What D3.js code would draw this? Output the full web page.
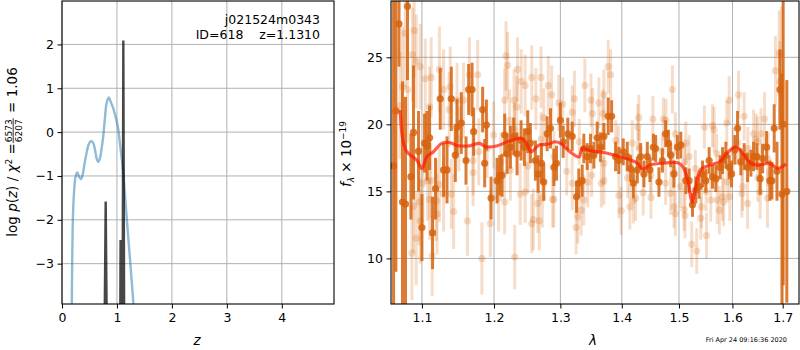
<!DOCTYPE html>
<html>
<head>
<meta charset="utf-8">
<script src="https://cdn.jsdelivr.net/npm/d3@7"></script>
<style>
body { margin: 0; background: #fff; }
text { font-family: "DejaVu Sans", sans-serif; fill: #000; }
</style>
</head>
<body>
<svg width="800" height="350"></svg>
<script>
// ---- left panel: log p(z) ----
const zTicks = [0, 1, 2, 3, 4];
const pTicks = [-3, -2, -1, 0, 1, 2];
// smooth p(z) curve (blue)
const pzBlue = [
  [0.175,-4.5],[0.185,-3.0],[0.20,-1.9],[0.22,-1.35],[0.25,-1.0],[0.28,-0.92],[0.31,-1.02],
  [0.345,-1.07],[0.38,-0.95],[0.41,-0.72],[0.44,-0.52],[0.48,-0.30],[0.52,-0.21],[0.56,-0.23],
  [0.60,-0.40],[0.63,-0.60],[0.66,-0.68],[0.69,-0.60],[0.72,-0.38],[0.75,-0.10],[0.78,0.30],
  [0.81,0.65],[0.85,0.79],[0.89,0.68],[0.93,0.55],[0.98,0.32],[1.02,0.10],[1.06,-0.32],
  [1.11,-0.86],[1.15,-1.50],[1.20,-2.31],[1.25,-3.10],[1.30,-3.92],[1.32,-4.30]
];
// fine grid p(z) (dark)
const pzDark = [
  [0.70,-6],[0.765,-6],[0.795,-1.58],[0.825,-6],[1.055,-6],[1.066,-2.46],[1.075,-6],
  [1.10,-6],[1.116,2.09],[1.135,-6],[1.20,-6]
];
const fitTitle = "j021524m0343";
const fitInfo = "ID=618    z=1.1310";

// ---- right panel: spectrum ----
const lamTicks = [1.1, 1.2, 1.3, 1.4, 1.5, 1.6, 1.7];
const fluxTicks = [10, 15, 20, 25];
// [wavelength (micron), flux, error] - grism 1
const specDark = [
  [1.0630,16.9,14],[1.0660,21.0,12],[1.0700,27.5,3.2],[1.0745,14.2,9],[1.0784,14.05,8],
  [1.0810,28.8,5.5],[1.0855,16.1,3.2],[1.0889,19.4,5],[1.0955,18.0,3],[1.1000,12.3,2.5],
  [1.1035,18.6,2.2],[1.1067,18.4,2.6],[1.1102,19.0,2.4],[1.1142,11.9,2.7],[1.1182,15.2,2.3],
  [1.1246,21.9,2.3],[1.1291,16.6,2.0],[1.1338,16.6,2.5],[1.1397,21.9,2.4],[1.1452,17.7,2.0],
  [1.1476,19.8,2.1],[1.1535,20.1,2.3],[1.1601,17.3,1.8],[1.1638,22.6,1.9],[1.1686,22.6,2.0],
  [1.1708,19.45,1.8],[1.1836,21.1,1.7],[1.1865,17.1,1.8],[1.1890,19.95,1.9],[1.1957,14.5,1.6],
  [1.2044,15.8,1.7],[1.2082,16.2,1.5],[1.2117,16.2,1.6],[1.2155,19.2,1.6],[1.2190,17.8,1.5],
  [1.2239,18.3,1.6],[1.2288,19.1,1.4],[1.2338,17.8,1.6],[1.2398,18.8,1.5],[1.2448,18.3,1.4],
  [1.2498,19.45,1.6],[1.2538,18.6,1.5],[1.2614,17.3,1.5],[1.2656,16.3,1.4],[1.2706,17.1,1.5],
  [1.2742,15.7,1.4],[1.2794,19.3,1.3],[1.2846,19.7,1.5],[1.2898,16.8,1.4],[1.2939,17.1,1.3],
  [1.3000,20.3,1.3],[1.3044,18.7,1.2],[1.3117,19.3,1.2],[1.3187,19.1,1.1],[1.3256,14.6,1.2],
  [1.3292,15.6,1.1],[1.3347,15.8,1.2],[1.3373,18.2,1.1],[1.3428,17.6,1.0],[1.3482,18.2,1.1],
  [1.3536,17.7,1.0],[1.3591,19.0,1.2],[1.3646,18.3,1.1],[1.3701,19.1,1.0],[1.3773,20.6,1.4],
  [1.3829,20.6,1.2],[1.3896,17.6,1.1],[1.3951,17.3,1.0],[1.4025,17.95,1.0],[1.4093,17.6,1.1],
  [1.4150,16.7,1.0],[1.4196,15.6,1.1],[1.4265,16.6,1.0],[1.4322,17.6,1.0],[1.4379,16.3,1.0],
  [1.4438,17.6,1.1],[1.4484,16.6,0.9],[1.4544,18.3,1.0],[1.4584,18.2,1.0],[1.4642,15.7,1.1],
  [1.4703,17.3,0.9],[1.4761,19.3,1.0],[1.4810,18.6,1.0],[1.4851,17.7,0.9],[1.4910,16.3,1.0],
  [1.4972,18.3,0.9],[1.5033,18.45,1.0],[1.5124,15.8,1.0],[1.5184,15.8,0.9],[1.5247,14.0,0.9],
  [1.5308,15.1,1.0],[1.5369,15.35,0.9],[1.5432,16.3,1.0],[1.5494,15.8,0.9],[1.5556,17.3,1.0],
  [1.5620,16.1,0.9],[1.5683,15.95,1.0],[1.5764,16.8,0.9],[1.5810,17.3,1.0],[1.5874,17.7,1.0],
  [1.5937,16.8,0.9],[1.5983,16.3,1.0],[1.6046,18.1,1.1],[1.6099,19.7,1.3],[1.6163,17.2,1.0],
  [1.6228,17.6,1.0],[1.6295,16.8,1.1],[1.6360,17.1,1.0],[1.6413,17.6,1.1],[1.6479,17.6,1.0],
  [1.6545,15.95,1.2],[1.6593,17.45,1.1],[1.6673,18.3,1.2],[1.6740,15.8,1.5],[1.6781,15.8,1.4],
  [1.6827,19.7,1.8],[1.6883,16.5,2.2],[1.6944,22.6,3.0],[1.6985,14.8,9],[1.7010,20.0,12],
  [1.7085,15.0,8.3]
];
// [wavelength (micron), flux, error] - grism 2 (faint)
const specLight = [
  [1.0715,21.4,4],[1.0745,22.8,4.5],[1.0780,26.8,4],[1.0810,22.6,4],[1.0876,25.2,3.5],
  [1.0898,27.0,3.5],[1.0924,24.7,3.5],[1.0977,24.3,3.2],[1.1044,23.4,3],[1.1102,21.3,3],
  [1.1124,23.5,3],[1.1235,24.1,3.2],[1.1291,22.6,3],[1.1368,21.1,2.8],[1.1382,22.8,3],
  [1.1476,21.8,2.8],[1.1566,21.8,2.8],[1.1649,23.7,2.8],[1.1013,15.6,3],[1.1075,15.8,3],
  [1.1120,15.8,2.8],[1.1235,15.5,2.8],[1.1291,14.8,2.8],[1.1397,14.8,2.6],[1.1429,13.5,2.8],
  [1.1621,12.8,2.6],[1.0889,13.9,3.5],[1.0964,14.2,3.2],[1.1102,14.4,3],[1.1193,14.3,3],
  [1.0977,12.8,3.2],[1.0924,11.5,3.5],[1.0868,10.4,3.5],[1.1137,10.2,3],[1.1202,13.3,3],
  [1.1765,23.7,2.6],[1.2175,25.1,2.6],[1.2198,24.4,2.5],[1.2345,24.1,2.4],[1.2400,23.2,2.4],
  [1.2459,22.9,2.3],[1.2559,23.5,2.4],[1.2700,23.5,2.3],[1.2812,22.9,2.2],[1.2864,22.2,2.2],
  [1.2622,21.9,2.3],[1.2155,21.8,2.4],[1.2294,21.8,2.3],[1.2333,21.3,2.3],[1.2742,20.5,2.2],
  [1.2228,20.3,2.3],[1.1994,19.2,2.5],[1.1825,10.0,2.7],[1.2303,10.1,2.4],[1.1946,12.6,2.5],
  [1.2155,14.2,2.4],[1.2066,14.5,2.5],[1.2385,14.8,2.3],[1.2459,14.95,2.3],[1.2559,12.6,2.2],
  [1.2583,12.9,2.3],[1.2674,12.8,2.2],[1.2650,14.1,2.2],[1.2720,14.5,2.2],[1.2879,14.4,2.1],
  [1.2239,16.6,2.3],[1.1700,17.3,2.6],[1.1781,17.95,2.5],
  [1.3389,22.9,2.0],[1.3489,21.8,2.0],[1.3223,21.9,2.1],[1.2975,21.6,2.1],[1.3038,21.5,2.0],
  [1.3773,24.3,2.0],[1.3813,23.7,1.9],[1.3701,22.2,1.9],[1.3618,21.6,1.9],[1.3514,20.8,1.9],
  [1.3684,20.8,1.8],[1.3187,20.9,2.0],[1.3942,18.1,1.8],[1.3250,12.3,2.0],[1.3276,13.1,2.0],
  [1.3330,13.6,1.9],[1.3373,14.35,1.9],[1.3437,15.7,1.9],[1.3659,15.6,1.8],[1.3701,15.8,1.8],
  [1.3951,14.7,1.7],[1.3990,13.55,1.8],[1.4137,13.85,1.7],[1.4196,14.3,1.7],[1.3187,15.6,2.0],
  [1.2898,14.4,2.1],
  [1.4881,22.6,1.8],[1.4290,20.5,1.7],[1.4535,20.4,1.7],[1.4721,20.4,1.6],[1.4766,20.3,1.6],
  [1.4273,19.8,1.7],[1.4935,19.3,1.6],[1.5124,18.6,1.6],[1.5184,17.6,1.6],[1.5468,19.8,1.6],
  [1.5620,19.9,1.6],[1.4178,18.6,1.7],[1.4366,14.9,1.7],[1.4502,14.55,1.6],[1.4237,14.5,1.7],
  [1.4851,14.85,1.6],[1.4910,13.85,1.6],[1.4935,13.35,1.7],[1.5092,13.65,1.6],[1.5110,13.2,1.7],
  [1.5233,11.05,1.7],[1.5325,10.55,1.7],[1.5400,13.0,1.6],[1.5506,11.7,1.7],[1.5413,13.85,1.6],
  [1.5588,14.35,1.6],[1.5033,15.35,1.6],[1.4761,15.6,1.6],
  [1.5937,21.8,1.8],[1.6118,22.2,1.8],[1.5650,19.6,1.7],[1.5890,20.1,1.7],[1.6228,20.6,1.8],
  [1.6632,20.4,2.0],[1.6413,19.3,1.8],[1.6560,19.3,1.9],[1.6460,18.9,1.9],[1.6852,24.0,2.6],
  [1.6927,25.3,3.2],[1.6972,25.3,3.5],[1.6940,23.2,3.0],[1.5750,13.6,1.8],[1.5831,14.2,1.8],
  [1.5706,14.35,1.8],[1.5950,14.6,1.8],[1.6184,14.85,1.8],[1.6295,14.1,1.9],[1.6545,14.95,2.0],
  [1.6691,14.5,2.2],[1.5810,14.6,1.8],[1.6197,15.35,1.8],[1.6492,18.7,1.9],[1.6014,17.95,1.8],
  [1.1500,18.9,2.4],[1.1700,16.4,2.5],[1.1900,18.2,2.2],[1.2100,17.2,2.2],[1.2300,19.6,2.0],
  [1.2500,16.9,2.0],[1.2700,18.9,2.0],[1.2900,17.6,1.9],[1.3100,16.5,1.8],[1.3300,18.7,1.7],
  [1.3500,16.2,1.6],[1.3700,17.1,1.6],[1.3900,18.8,1.5],[1.4100,16.0,1.5],[1.4300,18.2,1.4],
  [1.4500,16.2,1.4],[1.4700,18.0,1.4],[1.4900,16.6,1.4],[1.5100,17.2,1.4],[1.5300,16.7,1.4],
  [1.5500,15.0,1.5],[1.5700,17.8,1.5],[1.5900,15.7,1.5],[1.6100,18.6,1.6],[1.6300,18.2,1.6],
  [1.6500,16.0,1.8],[1.6700,17.4,2.0]
];
// best-fit model
const modelFlux = [
  [1.0715,21.07],[1.075,18.83],[1.080,17.96],[1.093,17.34],[1.100,16.7],[1.1066,17.58],
  [1.1155,17.96],[1.1267,18.58],[1.138,18.63],[1.149,18.4],[1.165,18.4],[1.179,18.58],
  [1.188,18.33],[1.205,18.4],[1.219,18.7],[1.228,18.83],[1.240,18.96],[1.248,18.58],
  [1.255,17.96],[1.267,18.46],[1.282,18.53],[1.292,18.7],[1.302,18.53],[1.312,18.08],
  [1.325,17.63],[1.330,17.58],[1.335,18.2],[1.348,18.03],[1.372,17.88],[1.397,17.58],
  [1.415,17.34],[1.427,17.09],[1.436,16.66],[1.448,16.96],[1.469,17.09],[1.498,17.13],
  [1.507,16.84],[1.516,15.84],[1.524,14.22],[1.531,15.34],[1.539,16.59],[1.557,16.96],
  [1.576,17.21],[1.592,17.96],[1.607,18.33],[1.620,17.84],[1.636,17.09],[1.650,16.96],
  [1.673,17.09],[1.690,16.72],[1.707,17.04]
];
const stamp = "Fri Apr 24 09:16:36 2020";

const svg = d3.select("svg");
const fs = 12.5;
const gridColor = "#b0b0b0";
const specColor = "#d6640f";

function frame(box, id) {
  svg.append("clipPath").attr("id", id)
    .append("rect")
    .attr("x", box.x0).attr("y", box.y0)
    .attr("width", box.x1 - box.x0).attr("height", box.y1 - box.y0);
}

function drawGrid(box, x, y, xt, yt) {
  const g = svg.append("g");
  g.selectAll(".gx").data(xt).enter().append("line")
    .attr("x1", d => x(d)).attr("x2", d => x(d))
    .attr("y1", box.y0).attr("y2", box.y1)
    .attr("stroke", gridColor).attr("stroke-width", 1);
  g.selectAll(".gy").data(yt).enter().append("line")
    .attr("x1", box.x0).attr("x2", box.x1)
    .attr("y1", d => y(d)).attr("y2", d => y(d))
    .attr("stroke", gridColor).attr("stroke-width", 1);
  return g;
}

function drawTicks(box, x, y, xt, yt, xfmt, yfmt) {
  const ax = svg.append("g")
    .attr("transform", `translate(0,${box.y1})`)
    .call(d3.axisBottom(x).tickValues(xt).tickFormat(xfmt).tickSize(4.5).tickSizeOuter(0).tickPadding(5));
  const ay = svg.append("g")
    .attr("transform", `translate(${box.x0},0)`)
    .call(d3.axisLeft(y).tickValues(yt).tickFormat(yfmt).tickSize(4.5).tickSizeOuter(0).tickPadding(3.5));
  [ax, ay].forEach(a => {
    a.select(".domain").remove();
    a.selectAll("text").attr("font-size", fs).attr("font-family", "DejaVu Sans").attr("fill", "#000");
    a.selectAll("line").attr("stroke", "#000").attr("stroke-width", 1);
  });
  svg.append("rect")
    .attr("x", box.x0).attr("y", box.y0)
    .attr("width", box.x1 - box.x0).attr("height", box.y1 - box.y0)
    .attr("fill", "none").attr("stroke", "#000").attr("stroke-width", 1.1);
}

// ================= left panel =================
const L = { x0: 62, x1: 334, y0: 1, y1: 304 };
const xz = d3.scaleLinear().domain([0, 4.95]).range([L.x0, L.x1]);
const yp = d3.scaleLinear().domain([-3.92, 2.99]).range([L.y1, L.y0]);
frame(L, "clipL");
drawGrid(L, xz, yp, zTicks, pTicks);

svg.append("path")
  .datum(pzBlue)
  .attr("clip-path", "url(#clipL)")
  .attr("d", d3.line().x(d => xz(d[0])).y(d => yp(d[1])).curve(d3.curveCatmullRom))
  .attr("fill", "none").attr("stroke", "#1f77b4").attr("stroke-opacity", 0.5).attr("stroke-width", 2.4);
svg.append("path")
  .datum(pzDark)
  .attr("clip-path", "url(#clipL)")
  .attr("d", d3.line().x(d => xz(d[0])).y(d => yp(d[1])))
  .attr("fill", "none").attr("stroke", "#000").attr("stroke-opacity", 0.72).attr("stroke-width", 2.4);

drawTicks(L, xz, yp, zTicks, pTicks, d3.format("d"), d3.format("d"));

svg.append("text").attr("x", 320).attr("y", 24).attr("text-anchor", "end")
  .attr("font-size", fs).text(fitTitle);
svg.append("text").attr("x", 320).attr("y", 39).attr("text-anchor", "end")
  .attr("font-size", fs).style("white-space", "pre").text(fitInfo);

svg.append("text").attr("x", 197).attr("y", 345).attr("text-anchor", "middle")
  .attr("font-size", fs + 1).attr("font-style", "italic").text("z");

// y label with fraction
const ylab = svg.append("g");
const t1 = ylab.append("text").attr("font-size", fs + 1);
t1.append("tspan").text("log ");
t1.append("tspan").attr("font-style", "italic").text("p");
t1.append("tspan").text("(");
t1.append("tspan").attr("font-style", "italic").text("z");
t1.append("tspan").text(") / ");
t1.append("tspan").attr("font-style", "italic").text("χ");
t1.append("tspan").attr("font-size", 9).attr("dy", -5.5).text("2");
t1.append("tspan").attr("dy", 5.5).text(" = ");
const w1 = t1.node().getComputedTextLength();
const num = ylab.append("text").attr("font-size", 9).attr("text-anchor", "middle").attr("y", -5.5).text("6573");
const fw = num.node().getComputedTextLength() + 2;
num.attr("x", w1 + fw / 2);
ylab.append("text").attr("font-size", 9).attr("text-anchor", "middle")
  .attr("x", w1 + fw / 2).attr("y", 5).text("6207");
ylab.append("line").attr("x1", w1).attr("x2", w1 + fw).attr("y1", -3.8).attr("y2", -3.8)
  .attr("stroke", "#000").attr("stroke-width", 0.8);
const t3 = ylab.append("text").attr("font-size", fs + 1).attr("x", w1 + fw + 1)
  .style("white-space", "pre").text(" = 1.06");
const total = w1 + fw + 1 + t3.node().getComputedTextLength();
ylab.attr("transform", `translate(17,${152 + total / 2}) rotate(-90)`);

// ================= right panel =================
const R = { x0: 391, x1: 799, y0: 1, y1: 304 };
const xw = d3.scaleLog().domain([1.0597, 1.7338]).range([R.x0, R.x1]);
const yf = d3.scaleLinear().domain([6.6, 29.2]).range([R.y1, R.y0]);
frame(R, "clipR");
drawGrid(R, xw, yf, lamTicks, fluxTicks);

const spec = svg.append("g").attr("clip-path", "url(#clipR)");
function errbars(data, op, cls) {
  spec.selectAll("." + cls + "b").data(data).enter().append("line")
    .attr("x1", d => xw(d[0])).attr("x2", d => xw(d[0]))
    .attr("y1", d => yf(d[1] - d[2])).attr("y2", d => yf(d[1] + d[2]))
    .attr("stroke", specColor).attr("stroke-opacity", op).attr("stroke-width", 3);
  spec.selectAll("." + cls + "m").data(data).enter().append("circle")
    .attr("cx", d => xw(d[0])).attr("cy", d => yf(d[1])).attr("r", 3.6)
    .attr("fill", specColor).attr("fill-opacity", op);
}
errbars(specLight, 0.22, "lt");
errbars(specDark, 0.85, "dk");

spec.append("path")
  .datum(modelFlux)
  .attr("d", d3.line().x(d => xw(d[0])).y(d => yf(d[1])).curve(d3.curveCatmullRom))
  .attr("fill", "none").attr("stroke", "#ff1a00").attr("stroke-opacity", 0.7).attr("stroke-width", 3.2);

drawTicks(R, xw, yf, lamTicks, fluxTicks, d3.format(".1f"), d3.format("d"));

svg.append("text").attr("x", 593).attr("y", 345).attr("text-anchor", "middle")
  .attr("font-size", fs + 1).attr("font-style", "italic").text("λ");

const fl = svg.append("text").attr("font-size", fs + 1).attr("text-anchor", "middle")
  .attr("transform", "translate(351,154) rotate(-90)");
fl.append("tspan").attr("font-style", "italic").text("f");
fl.append("tspan").attr("font-size", 9).attr("font-style", "italic").attr("dy", 3).text("λ");
fl.append("tspan").attr("dy", -3).text(" × 10");
fl.append("tspan").attr("font-size", 9).attr("dy", -5.5).text("−19");

svg.append("text").attr("x", 787).attr("y", 342).attr("text-anchor", "end")
  .attr("font-size", 6.5).text(stamp);
</script>
</body>
</html>
